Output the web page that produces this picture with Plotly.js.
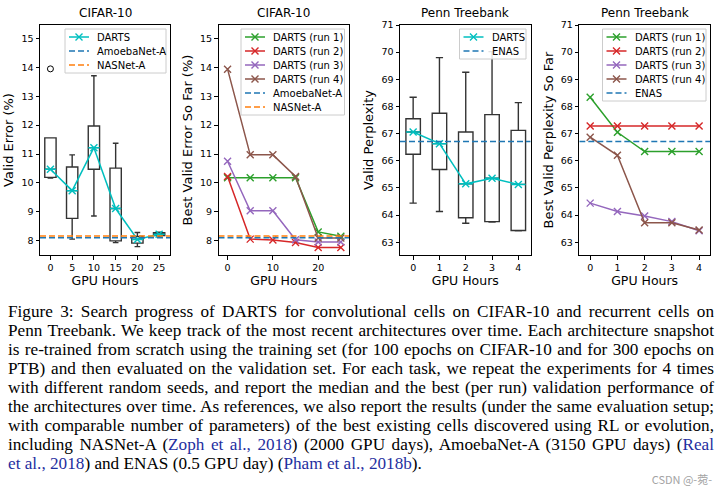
<!DOCTYPE html>
<html>
<head>
<meta charset="utf-8">
<script src="https://cdn.plot.ly/plotly-3.0.1.min.js"></script>
<style>
html,body{margin:0;padding:0;background:#fff;width:723px;height:495px;overflow:hidden;}
#chart{position:absolute;left:0;top:0;width:723px;height:495px;}
#caption{position:absolute;left:8px;top:302px;width:706px;font-family:"Liberation Serif","Times New Roman",serif;font-size:17.2px;line-height:19px;color:#000;}
#caption .ln{white-space:nowrap;display:block;height:19px;}
#caption .cite{color:#1f2f9f;}
#wm{position:absolute;right:11px;top:471px;font-family:"Noto Sans CJK SC","Noto Sans",sans-serif;font-size:11px;color:#a3a3a3;}
</style>
</head>
<body>
<div id="chart"></div>
<div id="caption">
<div class="ln"><span>Figure 3: Search progress of DARTS for convolutional cells on CIFAR-10 and recurrent cells on</span></div>
<div class="ln"><span>Penn Treebank. We keep track of the most recent architectures over time. Each architecture snapshot</span></div>
<div class="ln"><span>is re-trained from scratch using the training set (for 100 epochs on CIFAR-10 and for 300 epochs on</span></div>
<div class="ln"><span>PTB) and then evaluated on the validation set. For each task, we repeat the experiments for 4 times</span></div>
<div class="ln"><span>with different random seeds, and report the median and the best (per run) validation performance of</span></div>
<div class="ln"><span>the architectures over time. As references, we also report the results (under the same evaluation setup;</span></div>
<div class="ln"><span>with comparable number of parameters) of the best existing cells discovered using RL or evolution,</span></div>
<div class="ln"><span>including NASNet-A (<span class="cite">Zoph et al., 2018</span>) (2000 GPU days), AmoebaNet-A (3150 GPU days) (<span class="cite">Real</span></span></div>
<div class="ln last"><span><span class="cite">et al., 2018</span>) and ENAS (0.5 GPU day) (<span class="cite">Pham et al., 2018b</span>).</span></div>
</div>
<div id="wm">CSDN @-菀-</div>
<script>
// ---------------- data ----------------
const hoursC = [0, 5, 10, 15, 20, 25];
const cifarQ1 = [10.19, 8.77, 10.47, 7.99, 7.91, 8.17];
const cifarMedian = [10.47, 9.73, 11.22, 9.11, 8.04, 8.22];
const cifarQ3 = [11.56, 10.55, 11.97, 10.51, 8.14, 8.27];
const cifarLow = [10.17, 8.05, 8.85, 7.93, 7.79, 8.15];
const cifarHigh = [11.56, 10.97, 13.71, 11.37, 8.28, 8.29];
const cifarOutlierX = [0];
const cifarOutlierY = [13.95];
const cifarRun1 = [10.18, 10.18, 10.18, 10.18, 8.30, 8.15];
const cifarRun2 = [10.22, 8.05, 8.02, 7.93, 7.76, 7.76];
const cifarRun3 = [10.75, 9.03, 9.03, 8.03, 7.95, 7.95];
const cifarRun4 = [13.94, 10.97, 10.97, 10.22, 8.09, 8.09];
const amoebaNetA = 8.10;
const nasNetA = 8.16;

const hoursP = [0, 1, 2, 3, 4];
const ptbQ1 = [66.24, 65.68, 63.90, 63.76, 63.43];
const ptbMedian = [67.06, 66.63, 65.15, 65.36, 65.13];
const ptbQ3 = [67.55, 67.75, 67.06, 67.70, 67.12];
const ptbLow = [64.44, 64.13, 63.70, 63.74, 63.42];
const ptbHigh = [68.34, 69.80, 69.26, 70.02, 68.14];
const ptbRun1 = [68.34, 67.05, 66.34, 66.34, 66.34];
const ptbRun2 = [67.28, 67.28, 67.28, 67.28, 67.28];
const ptbRun3 = [64.44, 64.13, 63.97, 63.76, 63.42];
const ptbRun4 = [66.87, 66.20, 63.72, 63.72, 63.45];
const enas = 66.71;

const xTicks1 = [0, 5, 10, 15, 20, 25];
const xTicks2 = [0, 10, 20];
const xTicksP = [0, 1, 2, 3, 4];
const yTicksC = [8, 9, 10, 11, 12, 13, 14, 15];
const yTicksP = [63, 64, 65, 66, 67, 68, 69, 70, 71];

// ---------------- style ----------------
const W = 723, H = 495;
const C_DARTS = '#00bfbf', C_BLUE = '#1f77b4', C_ORANGE = '#ff7f0e';
const C_GREEN = '#2ca02c', C_RED = '#d62728', C_PURPLE = '#9467bd', C_BROWN = '#8c564b';
const FONT = 'DejaVu Sans, Verdana, sans-serif';
const x1Range = [-2.4, 27.5], x2Range = [-2.0, 26.8], x3Range = [-0.5, 4.47], x4Range = [-0.4, 4.4];
const yCRange = [7.5, 15.47], yPRange = [62.53, 71.0];
const yDom = [1 - 255 / H, 1 - 25 / H];
const dash = '6px,3px';

function xm(c) { return {symbol: 'x-thin', size: 7, color: c, line: {color: c, width: 1.4}}; }
function boxTrace(xa, ya, x, q1, med, q3, lo, hi, w) {
  return {type: 'box', xaxis: xa, yaxis: ya, x: x, q1: q1, median: med, q3: q3,
    lowerfence: lo, upperfence: hi, width: w, whiskerwidth: 0.5, boxpoints: false,
    line: {color: '#333333', width: 1.4}, fillcolor: 'rgba(0,0,0,0)', showlegend: false, hoverinfo: 'skip'};
}
function medTrace(xa, ya, x, med, w) {
  return {type: 'box', xaxis: xa, yaxis: ya, x: x, q1: med, median: med, q3: med,
    lowerfence: med, upperfence: med, width: w, whiskerwidth: 0, boxpoints: false,
    line: {color: C_DARTS, width: 1.5}, fillcolor: 'rgba(0,0,0,0)', showlegend: false, hoverinfo: 'skip'};
}
function runTrace(xa, ya, x, y, name, c) {
  return {type: 'scatter', mode: 'lines+markers', xaxis: xa, yaxis: ya, x: x, y: y, name: name,
    line: {color: c, width: 1.5}, marker: xm(c), showlegend: false, hoverinfo: 'skip'};
}
function hTrace(xa, ya, rng, v, name, c) {
  return {type: 'scatter', mode: 'lines', xaxis: xa, yaxis: ya, x: [rng[0], rng[1]], y: [v, v], name: name,
    line: {color: c, width: 1.5, dash: dash}, showlegend: false, hoverinfo: 'skip'};
}

// panel traces (named ones appear in that panel's legend, in order)
const panel1 = [
  runTrace('x', 'y', hoursC, cifarMedian, 'DARTS', C_DARTS),
  hTrace('x', 'y', x1Range, amoebaNetA, 'AmoebaNet-A', C_BLUE),
  hTrace('x', 'y', x1Range, nasNetA, 'NASNet-A', C_ORANGE)
];
const panel2 = [
  runTrace('x2', 'y2', hoursC, cifarRun1, 'DARTS (run 1)', C_GREEN),
  runTrace('x2', 'y2', hoursC, cifarRun2, 'DARTS (run 2)', C_RED),
  runTrace('x2', 'y2', hoursC, cifarRun3, 'DARTS (run 3)', C_PURPLE),
  runTrace('x2', 'y2', hoursC, cifarRun4, 'DARTS (run 4)', C_BROWN),
  hTrace('x2', 'y2', x2Range, amoebaNetA, 'AmoebaNet-A', C_BLUE),
  hTrace('x2', 'y2', x2Range, nasNetA, 'NASNet-A', C_ORANGE)
];
const panel3 = [
  runTrace('x3', 'y3', hoursP, ptbMedian, 'DARTS', C_DARTS),
  hTrace('x3', 'y3', x3Range, enas, 'ENAS', C_BLUE)
];
const panel4 = [
  runTrace('x4', 'y4', hoursP, ptbRun1, 'DARTS (run 1)', C_GREEN),
  runTrace('x4', 'y4', hoursP, ptbRun2, 'DARTS (run 2)', C_RED),
  runTrace('x4', 'y4', hoursP, ptbRun3, 'DARTS (run 3)', C_PURPLE),
  runTrace('x4', 'y4', hoursP, ptbRun4, 'DARTS (run 4)', C_BROWN),
  hTrace('x4', 'y4', x4Range, enas, 'ENAS', C_BLUE)
];

const traces = [].concat(
  [boxTrace('x', 'y', hoursC, cifarQ1, cifarMedian, cifarQ3, cifarLow, cifarHigh, 2.6),
   medTrace('x', 'y', hoursC, cifarMedian, 2.6),
   {type: 'scatter', mode: 'markers', xaxis: 'x', yaxis: 'y', x: cifarOutlierX, y: cifarOutlierY,
    marker: {symbol: 'circle-open', size: 6, color: '#000', line: {width: 1}}, showlegend: false, hoverinfo: 'skip'}],
  panel1, panel2,
  [boxTrace('x3', 'y3', hoursP, ptbQ1, ptbMedian, ptbQ3, ptbLow, ptbHigh, 0.55),
   medTrace('x3', 'y3', hoursP, ptbMedian, 0.55)],
  panel3, panel4
);

// ---- legends (matplotlib-style boxes), drawn on a pixel overlay axis ----
const legendAnn = [];
function addLegend(items, left, right, top) {
  const rowGap = 14, pad = 8;
  const bottom = top + pad * 2 + rowGap * (items.length - 1);
  traces.push({type: 'scatter', mode: 'lines', xaxis: 'x5', yaxis: 'y5',
    x: [left, right, right, left, left], y: [top, top, bottom, bottom, top], fill: 'toself',
    fillcolor: 'rgba(255,255,255,0.85)', line: {color: '#cccccc', width: 1}, showlegend: false, hoverinfo: 'skip'});
  items.forEach(function (t, i) {
    const yy = top + pad + rowGap * i;
    traces.push({type: 'scatter', mode: 'lines', xaxis: 'x5', yaxis: 'y5', x: [left + 4, left + 24], y: [yy, yy],
      line: t.line, showlegend: false, hoverinfo: 'skip'});
    if (t.mode.indexOf('markers') >= 0) {
      traces.push({type: 'scatter', mode: 'markers', xaxis: 'x5', yaxis: 'y5', x: [left + 14], y: [yy],
        marker: t.marker, showlegend: false, hoverinfo: 'skip'});
    }
    legendAnn.push({xref: 'x5', yref: 'y5', x: left + 30, y: yy, xanchor: 'left', yanchor: 'middle',
      showarrow: false, text: t.name, font: {family: FONT, size: 10, color: '#000'}});
  });
}
addLegend(panel1, 65, 166, 29);
addLegend(panel2, 241, 344.5, 29);
addLegend(panel3, 459.5, 526, 29);
addLegend(panel4, 602.5, 706, 29);

function xax(dom, rng, ticks, anchor) {
  return {domain: dom, range: rng, anchor: anchor, tickmode: 'array', tickvals: ticks,
    ticks: 'outside', ticklen: 3.5, tickwidth: 1, tickcolor: '#000', showline: true, mirror: true,
    linecolor: '#000', linewidth: 1, showgrid: false, zeroline: false,
    tickfont: {family: FONT, size: 9.5, color: '#000'},
    title: {text: 'GPU Hours', font: {family: FONT, size: 12.5, color: '#000'}, standoff: 4}};
}
function yax(rng, ticks, anchor, title) {
  return {domain: yDom, range: rng, anchor: anchor, tickmode: 'array', tickvals: ticks,
    ticks: 'outside', ticklen: 3.5, tickwidth: 1, tickcolor: '#000', showline: true, mirror: true,
    linecolor: '#000', linewidth: 1, showgrid: false, zeroline: false,
    tickfont: {family: FONT, size: 9.5, color: '#000'},
    title: {text: title, font: {family: FONT, size: 13, color: '#000'}, standoff: 4}};
}
function ttl(xref, yref, text) {
  return {xref: xref + ' domain', yref: yref + ' domain', x: 0.5, y: 1, yanchor: 'bottom', yshift: 3,
    showarrow: false, text: text, font: {family: FONT, size: 12, color: '#000'}};
}

const layout = {
  width: W, height: H, margin: {l: 0, r: 0, t: 0, b: 0}, paper_bgcolor: '#fff', plot_bgcolor: 'rgba(0,0,0,0)',
  showlegend: false, boxmode: 'overlay',
  xaxis: xax([40 / W, 170 / W], x1Range, xTicks1, 'y'),
  yaxis: yax(yCRange, yTicksC, 'x', 'Valid Error (%)'),
  xaxis2: xax([218.5 / W, 349 / W], x2Range, xTicks2, 'y2'),
  yaxis2: yax(yCRange, yTicksC, 'x2', 'Best Valid Error So Far (%)'),
  xaxis3: xax([400 / W, 530.7 / W], x3Range, xTicksP, 'y3'),
  yaxis3: yax(yPRange, yTicksP, 'x3', 'Valid Perplexity'),
  xaxis4: xax([579.3 / W, 710 / W], x4Range, xTicksP, 'y4'),
  yaxis4: yax(yPRange, yTicksP, 'x4', 'Best Valid Perplexity So Far'),
  xaxis5: {domain: [0, 1], range: [0, W], anchor: 'y5', visible: false, fixedrange: true},
  yaxis5: {domain: [0, 1], range: [H, 0], anchor: 'x5', visible: false, fixedrange: true},
  annotations: [ttl('x', 'y', 'CIFAR-10'), ttl('x2', 'y2', 'CIFAR-10'),
    ttl('x3', 'y3', 'Penn Treebank'), ttl('x4', 'y4', 'Penn Treebank')].concat(legendAnn)
};

Plotly.newPlot('chart', traces, layout, {displayModeBar: false, staticPlot: true});

// justify caption lines
(function () {
  const target = 706;
  document.querySelectorAll('#caption .ln').forEach(function (ln) {
    if (ln.classList.contains('last')) return;
    const sp = ln.firstElementChild;
    const w = sp.getBoundingClientRect().width;
    const n = (sp.textContent.match(/ /g) || []).length;
    if (n > 0) sp.style.wordSpacing = ((target - w) / n) + 'px';
  });
})();
</script>
</body>
</html>
